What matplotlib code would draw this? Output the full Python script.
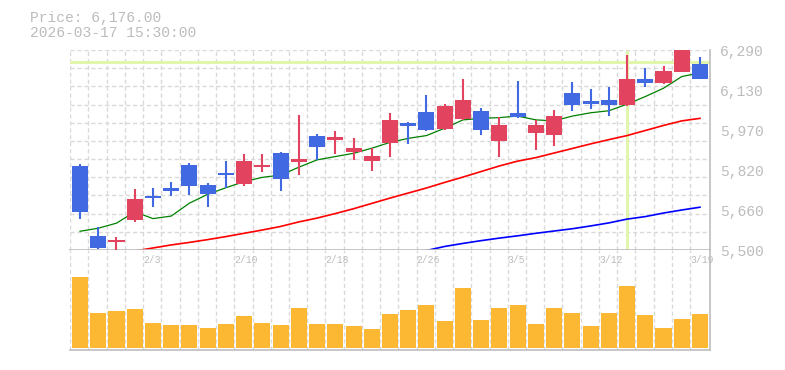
import numpy as np
import matplotlib
matplotlib.use("Agg")
import matplotlib.pyplot as plt
from matplotlib import transforms

# 日足データ (1/28 - 3/19)
dates = ["1/28", "1/29", "1/30", "2/2", "2/3", "2/4", "2/5", "2/6", "2/9", "2/10",
         "2/12", "2/13", "2/16", "2/17", "2/18", "2/19", "2/20", "2/24", "2/25", "2/26",
         "2/27", "3/2", "3/3", "3/4", "3/5", "3/6", "3/9", "3/10", "3/11", "3/12",
         "3/13", "3/16", "3/17", "3/18", "3/19"]
opens = [5832, 5555, 5530, 5618, 5713, 5745, 5836, 5757, 5803, 5762,
         5828, 5884, 5848, 5950, 5934, 5887, 5852, 5924, 6002, 6045,
         5978, 6017, 6049, 5931, 6041, 5962, 5954, 6120, 6089, 6092,
         6073, 6176, 6160, 6203, 6235]
highs = [5840, 5590, 5550, 5741, 5745, 5769, 5844, 5765, 5852, 5879,
         5879, 5886, 6034, 5959, 5970, 5942, 5903, 6041, 6006, 6112,
         6077, 6176, 6061, 6025, 6168, 6014, 6053, 6164, 6136, 6144,
         6270, 6219, 6227, 6290, 6262]
lows = [5624, 5503, 5498, 5612, 5671, 5715, 5717, 5671, 5744, 5753,
        5809, 5734, 5796, 5856, 5879, 5856, 5813, 5869, 5920, 5972,
        5974, 6014, 5954, 5867, 6021, 5895, 5911, 6049, 6057, 6029,
        6069, 6144, 6156, 6203, 6176]
closes = [5651, 5509, 5538, 5702, 5705, 5734, 5753, 5722, 5797, 5852,
          5836, 5781, 5860, 5908, 5946, 5903, 5871, 6014, 5991, 5974,
          6069, 6093, 5974, 5994, 6025, 5994, 6029, 6073, 6077, 6073,
          6176, 6160, 6207, 6290, 6176]
volumes = [713, 353, 370, 390, 250, 230, 230, 200, 240, 320,
           250, 230, 400, 240, 240, 220, 190, 340, 380, 430,
           270, 600, 280, 400, 430, 240, 400, 350, 220, 350,
           620, 330, 200, 290, 340]

# 移動平均 (5日, 25日, 75日)
ma5 = [5574, 5586, 5606, 5651, 5624, 5634, 5685, 5720, 5746, 5770,
       5787, 5796, 5827, 5856, 5869, 5882, 5902, 5925, 5941, 5952,
       5981, 6014, 6020, 6023, 6029, 6014, 6010, 6029, 6042, 6050,
       6076, 6106, 6139, 6185, 6200]
ma25 = [None, None, None, 5496, 5508, 5520, 5530, 5541, 5553, 5566,
        5579, 5593, 5611, 5626, 5644, 5663, 5684, 5705, 5725, 5745,
        5767, 5788, 5810, 5832, 5851, 5865, 5883, 5901, 5919, 5936,
        5952, 5972, 5992, 6010, 6020]
ma75 = [None] * 19 + [5498, 5514, 5526, 5537, 5547, 5556, 5566, 5575, 5584,
                      5595, 5607, 5622, 5632, 5646, 5658, 5669]

price_min, price_max = 5500, 6290
cross_idx = 30
cross_price = 6241

UP = "#e2445f"
DOWN = "#4169e1"
GRID = "#d9d9d9"
TEXT = "#bcbcbc"
CROSS = "#e2f5ad"

x = np.arange(len(closes))
fig = plt.figure(figsize=(7.85, 3.7), dpi=100)
ax = fig.add_axes([70 / 785, 1 - 250 / 370, 640 / 785, 200 / 370])
axv = fig.add_axes([70 / 785, 1 - 350 / 370, 640 / 785, 100 / 370])

for a in (ax, axv):
    a.set_xlim(-0.55, len(closes) - 0.45)
    for g in x - 0.54:
        a.axvline(g, color=GRID, lw=1, ls=(0, (3, 2)), zorder=0)
    for s in ("top", "left"):
        a.spines[s].set_visible(False)
    for s in ("right", "bottom"):
        a.spines[s].set_color("#bdbdbd")
        a.spines[s].set_linewidth(1.2)
    a.set_xticks([])
    a.set_yticks([])

# 価格チャート
ax.set_ylim(price_min, price_max)
for g in np.linspace(price_min, price_max, 12):
    ax.axhline(g, color=GRID, lw=1, ls=(0, (3, 2)), zorder=0)

ax.axhline(cross_price, color=CROSS, lw=2.2, zorder=1)
ax.axvline(cross_idx, ymin=0.01, ymax=0.99, color=CROSS, lw=2.2, zorder=1)

ma75_arr = np.array([np.nan if v is None else v for v in ma75], dtype=float)
ma25_arr = np.array([np.nan if v is None else v for v in ma25], dtype=float)
ax.plot(x, ma75_arr, color="blue", lw=1.2, zorder=2)
ax.plot(x, ma25_arr, color="red", lw=1.2, zorder=2)
ax.plot(x, ma5, color="green", lw=0.9, zorder=2)

o = np.array(opens)
c = np.array(closes)
colors = [UP if cc >= oo else DOWN for oo, cc in zip(o, c)]
ax.vlines(x, lows, highs, colors=colors, lw=1.5, zorder=3)
body = np.maximum(np.abs(c - o), 7)
ax.bar(x, body, bottom=np.minimum(o, c), width=0.88, color=colors, zorder=4)

# 価格目盛り (右側)
ytrans = transforms.blended_transform_factory(ax.transAxes, ax.transData) + \
    transforms.ScaledTranslation(10 / 100, -2.5 / 100, fig.dpi_scale_trans)
for t in np.linspace(price_min, price_max, 6):
    ax.text(1.0, t, f"{round(t, -1):,.0f}", transform=ytrans, ha="left", va="center",
            fontsize=10.5, color=TEXT, family="Liberation Mono", clip_on=False)

# 出来高
axv.set_ylim(-20, 980)
axv.bar(x, volumes, width=0.88, color="#fdb833", zorder=3)

trans = transforms.blended_transform_factory(axv.transData, axv.transAxes)
for i in range(4, len(dates), 5):
    axv.text(i - 0.54, 0.9, dates[i], transform=trans, ha="left", va="center",
             fontsize=7, color=TEXT, family="Liberation Mono")

# ヘッダー
fig.text(30 / 785, 1 - 18 / 370, "Price: 6,176.00", fontsize=10.5, color=TEXT,
         family="Liberation Mono", va="center")
fig.text(30 / 785, 1 - 33 / 370, "2026-03-17 15:30:00", fontsize=10.5, color=TEXT,
         family="Liberation Mono", va="center")

fig.savefig("out.png", dpi=100)
